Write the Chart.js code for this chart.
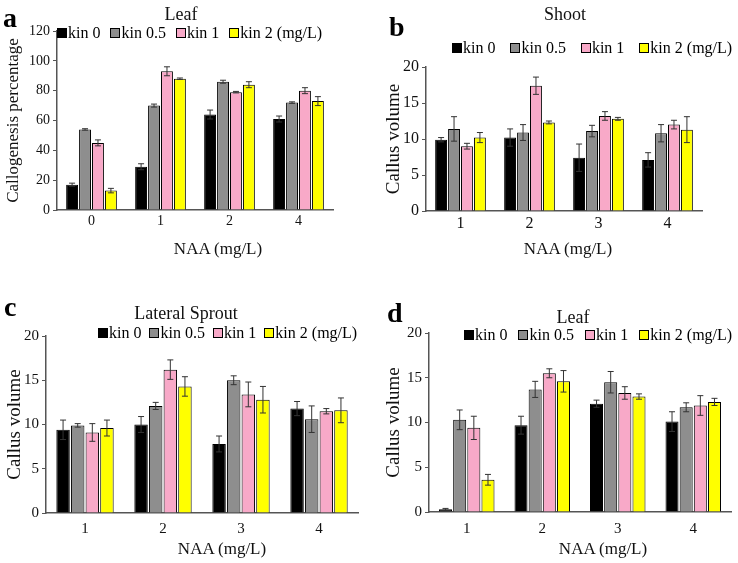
<!DOCTYPE html>
<html>
<head>
<meta charset="utf-8">
<script src="https://cdn.jsdelivr.net/npm/chart.js@4.4.1/dist/chart.umd.min.js"></script>
<style>
body { margin: 0; background: #fff; font-family: "Liberation Serif", serif; color: #111; }
#wrap { position: relative; width: 738px; height: 563px; overflow: hidden; }
canvas { position: absolute; }
.letter { position: absolute; font-weight: bold; font-size: 28px; line-height: 1; color: #000; }
.ttl { position: absolute; line-height: 1; white-space: nowrap; transform: translate(-50%, -50%); }
.leg { position: absolute; display: flex; align-items: center; white-space: nowrap; line-height: 1; transform: translateY(-50%); color: #000; }
.leg .item { display: flex; align-items: center; }
.leg .box { display: inline-block; width: 8px; height: 8px; border: 1px solid #000; margin-right: 1px; }
</style>
</head>
<body>
<div id="wrap">
  <canvas id="ca" width="369" height="260" style="left:0;top:0"></canvas>
  <canvas id="cb" width="369" height="260" style="left:369px;top:0"></canvas>
  <canvas id="cc" width="369" height="273" style="left:0;top:290px"></canvas>
  <canvas id="cd" width="369" height="273" style="left:369px;top:290px"></canvas>

  <div class="letter" style="left:3px;top:4px">a</div>
  <div class="letter" style="left:389px;top:13px">b</div>
  <div class="letter" style="left:4px;top:293px">c</div>
  <div class="letter" style="left:387px;top:299px">d</div>

  <div class="ttl" style="left:181px;top:14px;font-size:18px">Leaf</div>
  <div class="ttl" style="left:565px;top:14px;font-size:18px">Shoot</div>
  <div class="ttl" style="left:186px;top:313px;font-size:18px">Lateral Sprout</div>
  <div class="ttl" style="left:573px;top:317px;font-size:18px">Leaf</div>

  <div class="ttl" style="left:218px;top:248px;font-size:17px">NAA (mg/L)</div>
  <div class="ttl" style="left:568px;top:248px;font-size:17px">NAA (mg/L)</div>
  <div class="ttl" style="left:222px;top:548px;font-size:17px">NAA (mg/L)</div>
  <div class="ttl" style="left:603px;top:548px;font-size:17px">NAA (mg/L)</div>

  <div class="leg" id="la" style="left:57px;top:33px;font-size:16px"></div>
  <div class="leg" id="lb" style="left:452px;top:48px;font-size:16px"></div>
  <div class="leg" id="lc" style="left:98px;top:333px;font-size:16px"></div>
  <div class="leg" id="ld" style="left:464px;top:335px;font-size:16px"></div>
</div>
<script>
// series and categories
const kinLabels = ['kin 0', 'kin 0.5', 'kin 1', 'kin 2 (mg/L)'];
const kinColors = ['#000000', '#8e8e8e', '#f8a9c8', '#ffff00'];
const naaA = ['0', '1', '2', '4'];
const naaBCD = ['1', '2', '3', '4'];

// a: Leaf, callogenesis percentage (rows = kin 0, 0.5, 1, 2)
const leafPct = [[17, 29, 64, 61], [54, 70, 86, 72], [45, 93, 79, 80], [13, 88, 84, 73]];
const leafPctErr = [[1, 2, 3, 2], [0.5, 1, 1, 0.5], [2, 3, 0.5, 2], [1.5, 0.5, 2, 3]];

// b: Shoot, callus volume
const shootVol = [[9.9, 10.2, 7.4, 7.1], [11.4, 10.9, 11.1, 10.8], [9.0, 17.4, 13.2, 12.0], [10.2, 12.3, 12.8, 11.3]];
const shootErr = [[0.3, 1.2, 1.9, 1.0], [1.7, 1.1, 0.8, 1.2], [0.4, 1.2, 0.6, 0.6], [0.7, 0.2, 0.2, 1.8]];

// c: Lateral sprout, callus volume
const sproutVol = [[9.4, 10.0, 7.8, 11.8], [9.9, 12.1, 15.0, 10.6], [9.1, 16.2, 13.4, 11.5], [9.6, 14.3, 12.8, 11.6]];
const sproutErr = [[1.1, 0.9, 0.9, 0.8], [0.2, 0.4, 0.5, 1.5], [1.0, 1.1, 1.4, 0.3], [0.9, 1.1, 1.5, 1.4]];

// d: Leaf, callus volume
const leafVol = [[0.3, 9.7, 12.1, 10.1], [10.3, 13.7, 14.5, 11.7], [9.4, 15.5, 13.3, 11.9], [3.6, 14.6, 12.9, 12.3]];
const leafVolErr = [[0.1, 1.0, 0.4, 1.1], [1.1, 0.9, 1.2, 0.5], [1.3, 0.5, 0.7, 1.1], [0.6, 1.2, 0.3, 0.4]];

const FONT = '"Liberation Serif", serif';

const errorBars = {
  id: 'errorBars',
  afterDatasetsDraw(chart) {
    const ctx = chart.ctx, y = chart.scales.y;
    ctx.save();
    ctx.strokeStyle = '#333';
    ctx.lineWidth = 1;
    chart.data.datasets.forEach((ds, i) => {
      chart.getDatasetMeta(i).data.forEach((bar, j) => {
        const v = ds.data[j], e = ds.errors[j];
        const top = y.getPixelForValue(v + e), bot = y.getPixelForValue(v - e);
        ctx.beginPath();
        ctx.moveTo(bar.x, top); ctx.lineTo(bar.x, bot);
        ctx.moveTo(bar.x - 3, top); ctx.lineTo(bar.x + 3, top);
        ctx.moveTo(bar.x - 3, bot); ctx.lineTo(bar.x + 3, bot);
        ctx.stroke();
      });
    });
    ctx.restore();
  }
};

function legend(id, gap) {
  const el = document.getElementById(id);
  kinLabels.forEach((k, i) => {
    const it = document.createElement('span');
    it.className = 'item';
    it.style.marginRight = gap + 'px';
    it.innerHTML = '<span class="box" style="background:' + kinColors[i] + '"></span>' + k;
    el.appendChild(it);
  });
}

function panel(id, labels, values, errs, o) {
  new Chart(document.getElementById(id), {
    type: 'bar',
    data: {
      labels: labels,
      datasets: kinLabels.map((k, i) => ({
        label: k, data: values[i], errors: errs[i],
        backgroundColor: kinColors[i], borderColor: '#000', borderWidth: 1
      }))
    },
    options: {
      responsive: false,
      animation: false,
      layout: { padding: o.pad },
      datasets: { bar: { categoryPercentage: 0.75, barPercentage: 0.92 } },
      plugins: { legend: { display: false }, tooltip: { enabled: false } },
      scales: {
        x: {
          grid: { display: false, drawTicks: false },
          border: { color: '#555', width: 1.5 },
          ticks: { color: '#111', padding: o.xPad, font: { family: FONT, size: o.tick } },
          afterFit: s => { s.height = o.xH; }
        },
        y: {
          min: 0, max: o.max,
          ticks: { stepSize: o.step, color: '#111', padding: 3, font: { family: FONT, size: o.tick } },
          grid: { drawOnChartArea: false, drawTicks: true, tickLength: 4, color: '#555' },
          border: { color: '#555', width: 1.5 },
          title: { display: true, text: o.yTitle, color: '#111', padding: 0, font: { family: FONT, size: o.yFont } },
          afterFit: s => { s.width = o.yW; }
        }
      }
    },
    plugins: [errorBars]
  });
}

panel('ca', naaA, leafPct, leafPctErr, {
  max: 120, step: 20, yTitle: 'Callogenesis percentage', yFont: 17, tick: 14,
  pad: { left: 3, top: 31, right: 36, bottom: 0 }, yW: 54, xH: 50, xPad: 3
});
panel('cb', naaBCD, shootVol, shootErr, {
  max: 20, step: 5, yTitle: 'Callus volume', yFont: 19, tick: 16,
  pad: { left: 14, top: 67, right: 36, bottom: 0 }, yW: 43, xH: 49, xPad: 3
});
panel('cc', naaBCD, sproutVol, sproutErr, {
  max: 20, step: 5, yTitle: 'Callus volume', yFont: 19, tick: 15,
  pad: { left: 4, top: 46, right: 11, bottom: 0 }, yW: 42, xH: 50, xPad: 7
});
panel('cd', naaBCD, leafVol, leafVolErr, {
  max: 20, step: 5, yTitle: 'Callus volume', yFont: 19, tick: 15,
  pad: { left: 14, top: 43, right: 7, bottom: 0 }, yW: 46, xH: 51, xPad: 8
});

legend('la', 10);
legend('lb', 15);
legend('lc', 8);
legend('ld', 11);
</script>
</body>
</html>
